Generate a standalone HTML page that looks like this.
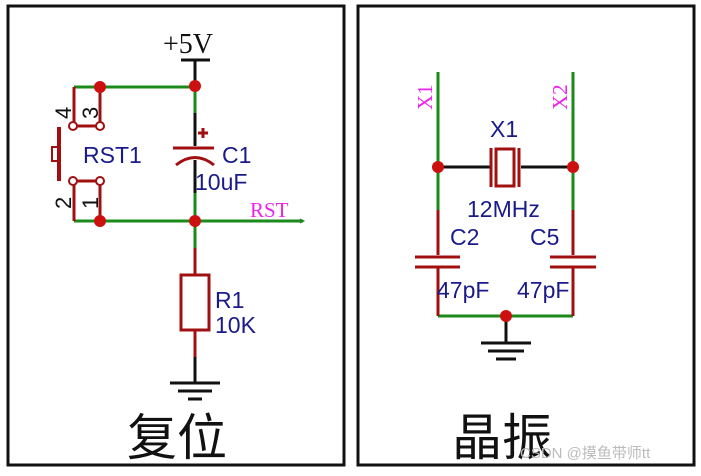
<!DOCTYPE html><html><head><style>body{margin:0;background:#fff;width:701px;height:471px;overflow:hidden}</style></head><body>
<svg width="701" height="471" xmlns="http://www.w3.org/2000/svg" font-family="Liberation Sans, sans-serif">
<rect x="8" y="6" width="336" height="459" fill="none" stroke="#111" stroke-width="3"/>
<rect x="358" y="6" width="336" height="459" fill="none" stroke="#111" stroke-width="3"/>
<g stroke-width="3" fill="none">
<path d="M181 60H210M195 60V86" stroke="#111"/>
<path d="M74 87H195M195 87V113M195 193V221M74 221H303M195 221V248" stroke="#1a8a1a"/>
<path d="M300 219L304 221L300 223" stroke="#1a8a1a" stroke-width="1"/>
<path d="M195 113V146M195 160V193M195 357V383M170 383H220M178 391H212M188 399H202" stroke="#111"/>
<path d="M173 148H214M176 165Q195 150 214 165M198 133H208M203 128V138" stroke="#a01010"/>
<path d="M74 87V122M100 87V122M77 126H96M74 185V221M100 185V221M77 181H96M195 248V275M195 330V357" stroke="#a01010"/>
<rect x="181" y="275" width="28" height="55" stroke="#a01010"/>
<circle cx="73" cy="126" r="4" stroke="#a01010" stroke-width="2"/><circle cx="100" cy="126" r="4" stroke="#a01010" stroke-width="2"/>
<circle cx="73" cy="181" r="4" stroke="#a01010" stroke-width="2"/><circle cx="100" cy="181" r="4" stroke="#a01010" stroke-width="2"/>
<path d="M59 127V181" stroke="#a01010" stroke-width="4"/>
<rect x="52" y="147" width="6" height="14" stroke="#a01010" stroke-width="2"/>
<path d="M438 72V210M573 72V210M438 167H442M569 167H573M438 316H573" stroke="#1a8a1a"/>
<path d="M442 167H490M521 167H569M506 316V342M481 343H531M488 351H524M496 359H516" stroke="#111"/>
<path d="M438 210V255M573 210V255M438 268V316M573 268V316M415 257H460M415 267H460M550 257H596M550 267H596M491 148V187M519 148V187" stroke="#a01010"/>
<rect x="496" y="149" width="18" height="37" stroke="#a01010"/>
</g>
<g fill="#cc1010">
<circle cx="100" cy="87" r="6"/><circle cx="195" cy="86" r="6"/><circle cx="100" cy="221" r="6"/><circle cx="195" cy="221" r="6"/>
<circle cx="438" cy="167" r="6"/><circle cx="573" cy="167" r="6"/><circle cx="506" cy="316" r="6"/>
</g>
<g font-size="23" fill="#1a1a8a">
<text x="83" y="163">RST1</text><text x="222" y="163">C1</text><text x="195" y="190">10uF</text>
<text x="215" y="308">R1</text><text x="215" y="333">10K</text>
<text x="490" y="137">X1</text><text x="467" y="217">12MHz</text>
<text x="450" y="245">C2</text><text x="530" y="245">C5</text>
<text x="437" y="298">47pF</text><text x="517" y="298">47pF</text>
</g>
<g font-size="22" fill="#111">
<text transform="translate(71,119) rotate(-90)">4</text><text transform="translate(98,119) rotate(-90)">3</text>
<text transform="translate(71,209) rotate(-90)">2</text><text transform="translate(98,209) rotate(-90)">1</text>
</g>
<text x="163" y="53" font-family="Liberation Serif, serif" font-size="28" fill="#111">+5V</text>
<g font-family="Liberation Serif, serif" font-size="21" fill="#ee22ee">
<text x="250" y="217">RST</text>
<text transform="translate(432,110) rotate(-90)">X1</text>
<text transform="translate(567,110) rotate(-90)">X2</text>
</g>
<g font-family="Noto Sans CJK SC, sans-serif" font-size="50" fill="#111">
<text x="127" y="455">复位</text><text x="452" y="455">晶振</text>
</g>
<text x="520" y="458" font-family="Liberation Sans, Noto Sans CJK SC, sans-serif" font-size="15" fill="#bbb">CSDN @摸鱼带师tt</text>
</svg>
</body></html>
